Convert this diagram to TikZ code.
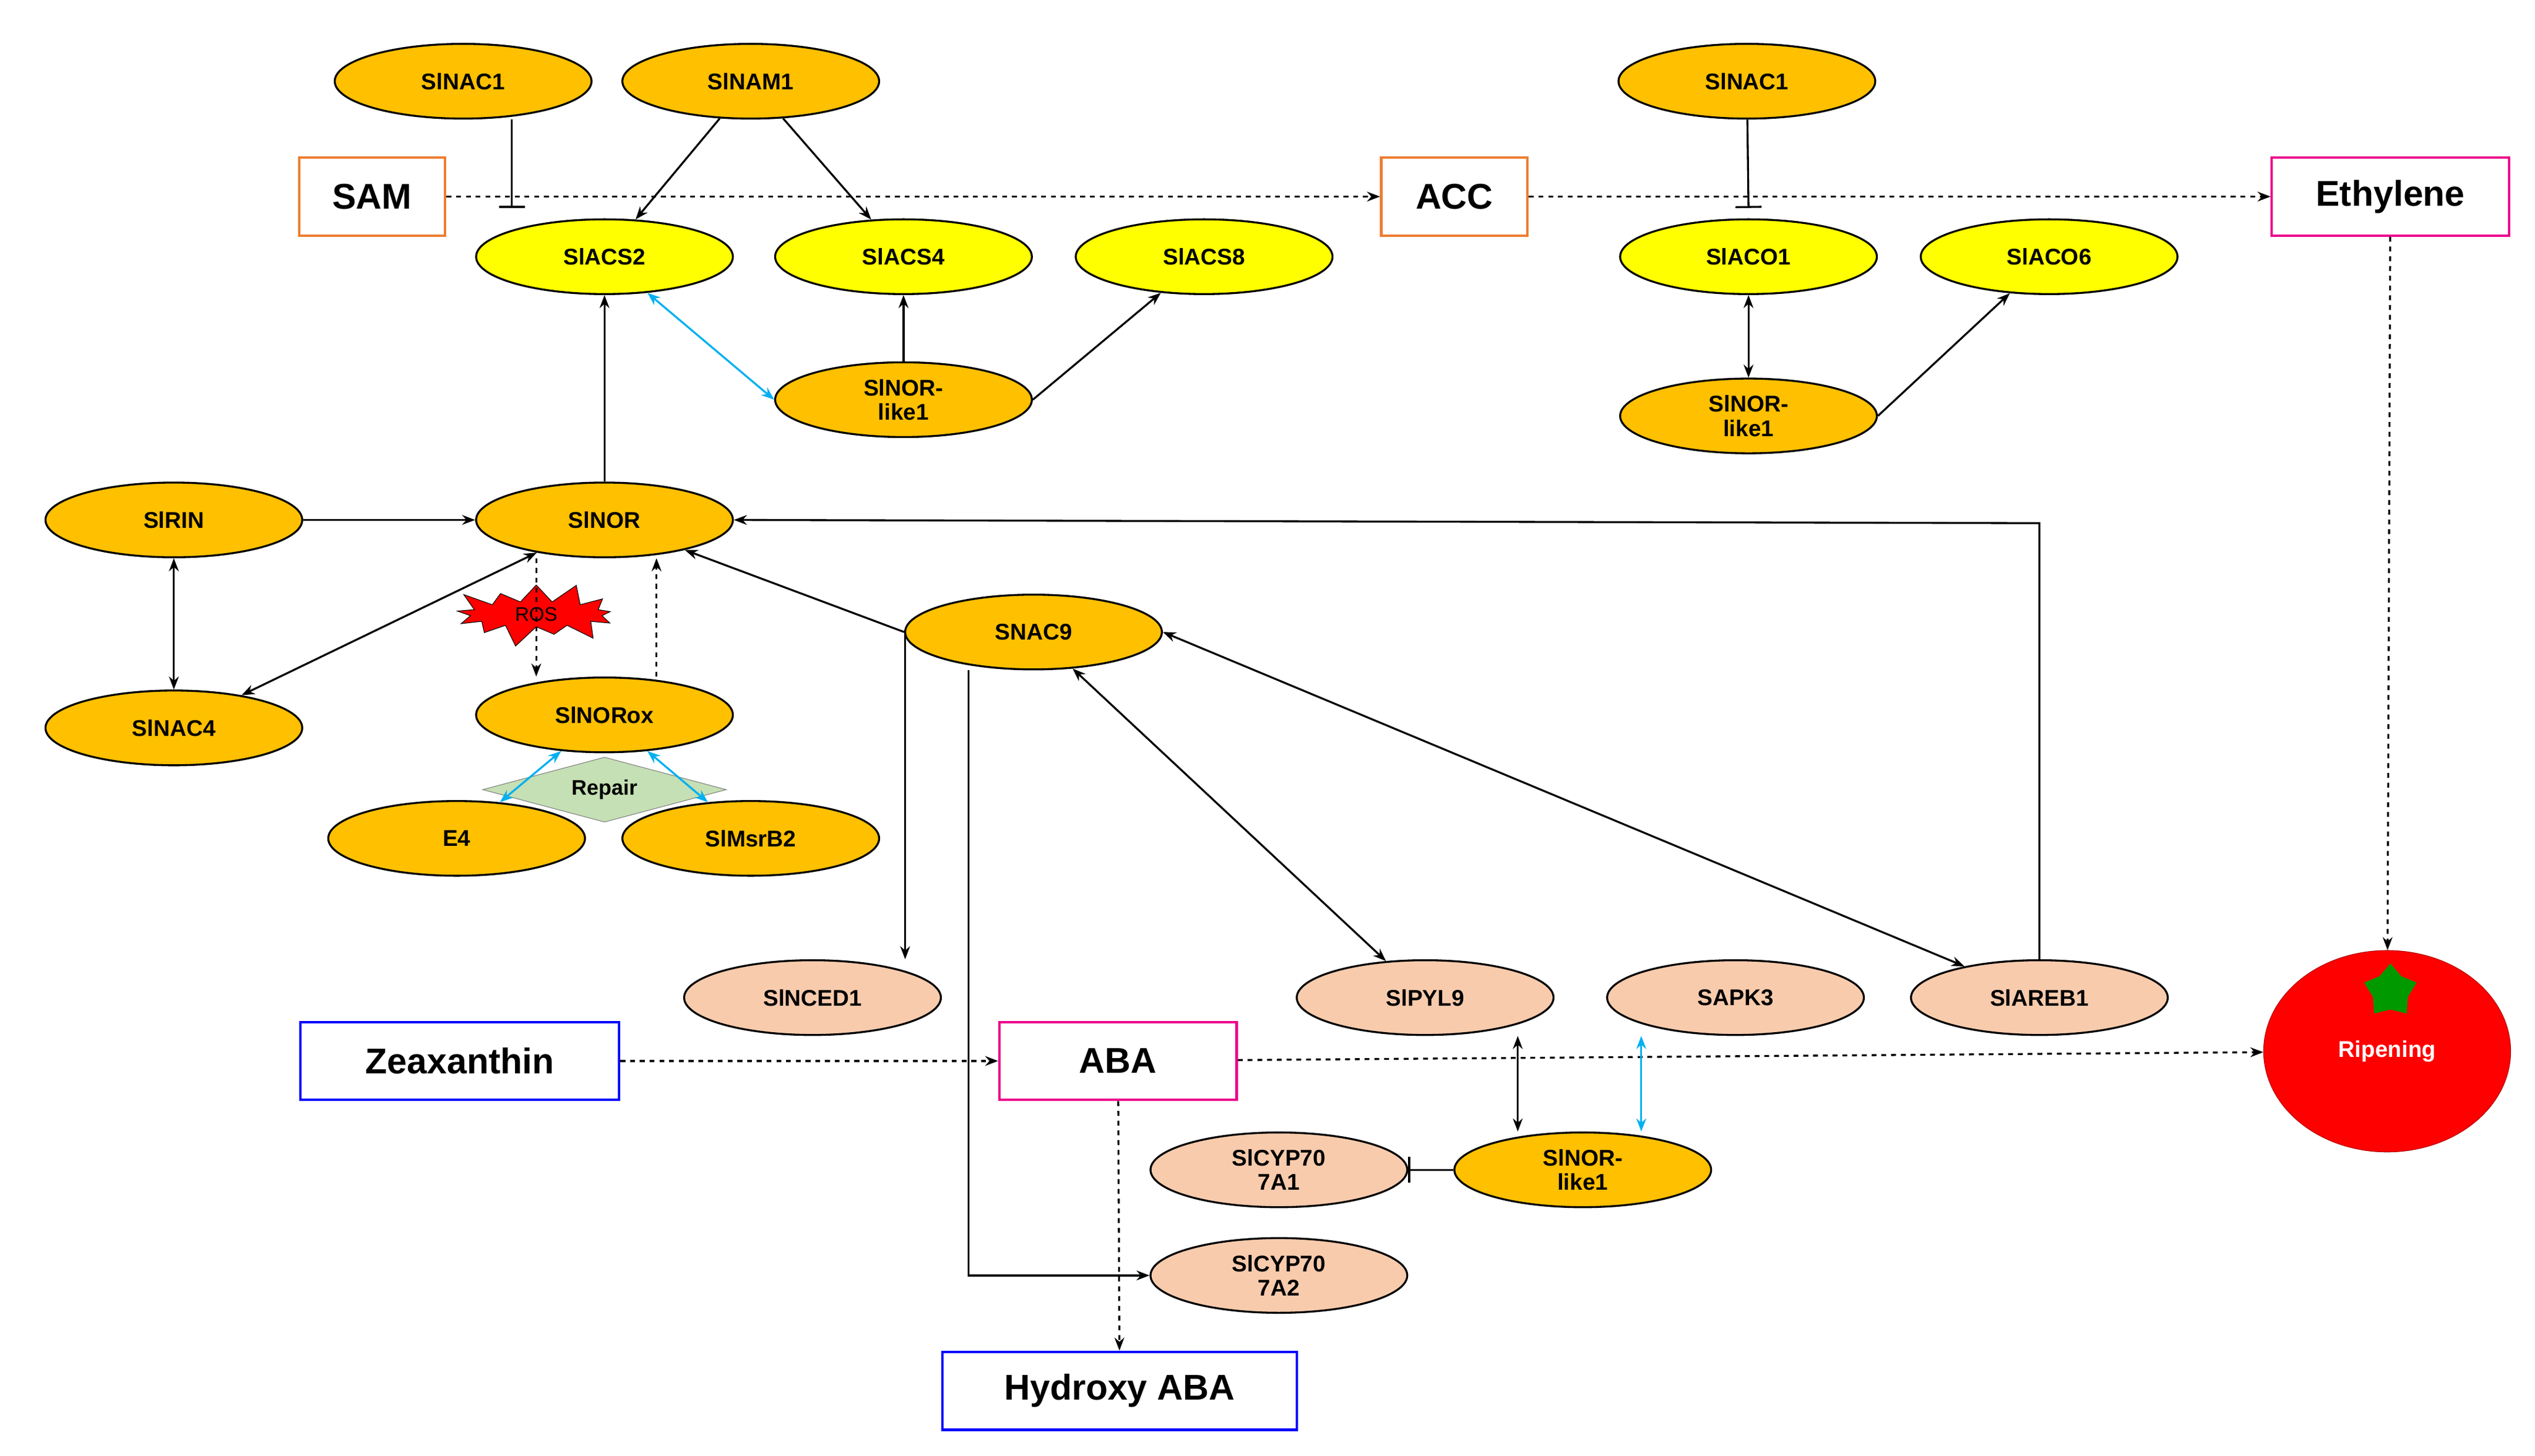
\documentclass[tikz,border=0pt]{standalone}
\usepackage{fontspec}
\setmainfont{Liberation Sans}
\usetikzlibrary{shapes.geometric,shapes.symbols,arrows.meta}
\definecolor{org}{RGB}{255,192,0}
\definecolor{yel}{RGB}{255,255,0}
\definecolor{pch}{RGB}{248,203,173}
\definecolor{cy}{RGB}{0,176,240}
\definecolor{boxo}{RGB}{237,125,49}
\definecolor{rep}{RGB}{197,224,180}
\begin{document}
\begin{tikzpicture}[x=1pt,y=-1pt,
 g/.style={ellipse,draw=black,line width=1.2pt,minimum width=158pt,minimum height=46pt,inner sep=0pt,font=\fontsize{14}{15}\bfseries,align=center},
 o/.style={g,fill=org}, yl/.style={g,fill=yel}, p/.style={g,fill=pch},
 bx/.style={draw,line width=1.5pt,fill=white,minimum height=48pt,font=\fontsize{22}{24}\bfseries},
 a/.style={-{Stealth[length=8pt,width=6pt]},line width=1.2pt},
 aa/.style={{Stealth[length=8pt,width=6pt]}-{Stealth[length=8pt,width=6pt]},line width=1.2pt},
 ca/.style={aa,cy},
 da/.style={a,dashed},
 inh/.style={-{Bar[width=16pt]},line width=1.2pt}]
\useasboundingbox (0,0) rectangle (1560,896);
\node[o] (nac1a) at (285,50) {SlNAC1};
\node[o] (nam1) at (462,50) {SlNAM1};
\node[o] (nac1b) at (1075,50) {SlNAC1};
\node[bx,draw=boxo,minimum width=90pt] (sam) at (229,121) {SAM};
\node[bx,draw=boxo,minimum width=90pt] (acc) at (895,121) {ACC};
\node[bx,draw=magenta,minimum width=146pt] (eth) at (1471,121) {Ethylene};
\node[yl] (acs2) at (372,158) {SlACS2};
\node[yl] (acs4) at (556,158) {SlACS4};
\node[yl] (acs8) at (741,158) {SlACS8};
\node[yl] (aco1) at (1076,158) {SlACO1};
\node[yl] (aco6) at (1261,158) {SlACO6};
\node[o] (nl1a) at (556,246) {SlNOR-\\like1};
\node[o] (nl1b) at (1076,256) {SlNOR-\\like1};
\node[o] (rin) at (107,320) {SlRIN};
\node[o] (nor) at (372,320) {SlNOR};
\node[o] (snac9) at (636,389) {SNAC9};
\node[o] (nac4) at (107,448) {SlNAC4};
\node[o] (norox) at (372,440) {SlNORox};
\node[diamond,draw=gray,fill=rep,aspect=3.8,minimum width=150pt,minimum height=40pt,inner sep=0pt,font=\fontsize{13}{14}\bfseries] (rep) at (372,486) {Repair};
\node[o] (e4) at (281,516) {E4};
\node[o] (msr) at (462,516) {SlMsrB2};
\node[starburst,draw=black,fill=red,minimum width=110pt,minimum height=44pt,inner sep=0pt,font=\fontsize{12}{13}\selectfont,starburst points=13] (ros) at (330,378) {ROS};
\node[p] (nced) at (500,614) {SlNCED1};
\node[p] (pyl) at (877,614) {SlPYL9};
\node[p] (sapk) at (1068,614) {SAPK3};
\node[p] (areb) at (1255,614) {SlAREB1};
\node[bx,draw=blue,minimum width=196pt] (zea) at (283,653) {Zeaxanthin};
\node[bx,draw=magenta,minimum width=146pt] (aba) at (688,653) {ABA};
\node[ellipse,draw=red!70!black,fill=red,minimum width=152pt,minimum height=124pt,font=\fontsize{14}{15}\bfseries,text=white] (rip) at (1469,647) {Ripening};
\node[star,star points=5,fill=green!60!black,minimum size=34pt,inner sep=0pt] (st) at (1471,610) {};
\node[p] (cyp1) at (787,720) {SlCYP70\\7A1};
\node[o] (nl1c) at (974,720) {SlNOR-\\like1};
\node[p] (cyp2) at (787,785) {SlCYP70\\7A2};
\node[bx,draw=blue,minimum width=218pt] (hab) at (689,856) {Hydroxy ABA};
% ethylene pathway
\draw[da] (sam) -- (acc);
\draw[da] (acc) -- (eth);
\coordinate (i1) at (315,128); \coordinate (i2) at (1076,128);
\draw[inh] (nac1a.south -| i1) -- (i1);
\draw[inh] (nac1b) -- (i2);
\draw[a] (nam1) -- (acs2);
\draw[a] (nam1) -- (acs4);
\draw[a] (nor) -- (acs2);
\draw[ca] (acs2) -- (nl1a.west);
\draw[a] (nl1a) -- (acs4);
\draw[a] (nl1a.east) -- (acs8);
\draw[aa] (aco1) -- (nl1b);
\draw[a] (nl1b.east) -- (aco6);
\draw[da] (eth) -- (rip);
% NOR
\draw[a] (rin) -- (nor);
\draw[aa] (rin) -- (nac4);
\draw[aa] (nac4) -- (nor);
\draw[da] (nor.south -| ros) -- (norox.north -| ros);
\draw[da] (norox.north -| 404,0) -- (nor.south -| 404,0);
\draw[a] (snac9.west) -- (nor);
\coordinate (ar) at (1255,322);
\draw[a] (areb) -- (ar) -- (nor.east);
\draw[aa] (snac9) -- (pyl);
\draw[aa] (snac9.east) -- (areb);
\draw[a] (snac9.west -| 557,0) -- (nced.north -| 557,0);
\coordinate (c2) at (596,785);
\draw[a] (snac9.south -| c2) -- (c2) -- (cyp2);
\draw[ca] (norox) -- (e4);
\draw[ca] (norox) -- (msr);
% ABA
\draw[da] (zea) -- (aba);
\draw[da] (aba) -- (rip);
\draw[da] (aba) -- (hab);
\draw[aa] (pyl.south -| 934,0) -- (nl1c.north -| 934,0);
\draw[ca] (sapk.south -| 1010,0) -- (nl1c.north -| 1010,0);
\draw[inh] (nl1c) -- (cyp1);
\end{tikzpicture}
\end{document}
